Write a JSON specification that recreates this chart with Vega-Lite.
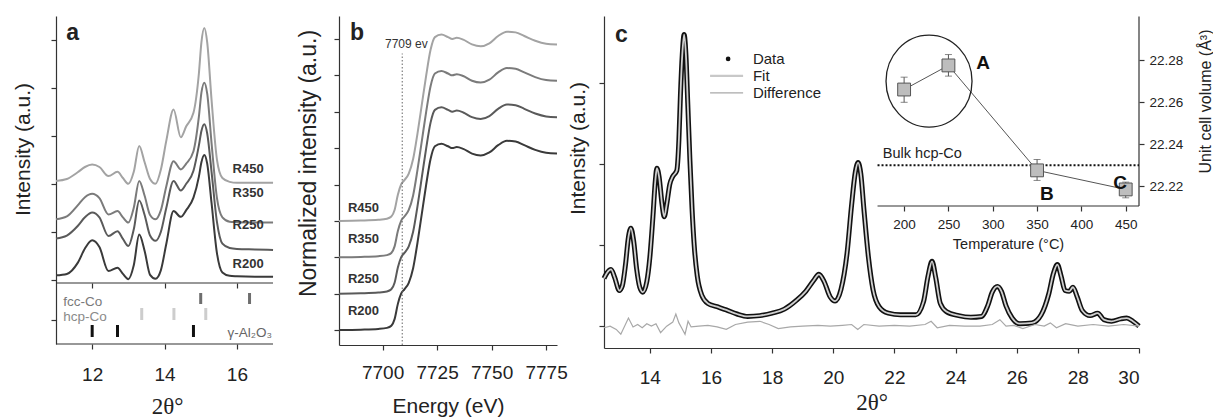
{
"$schema":"https://vega.github.io/schema/vega-lite/v6.json",
"background":"white",
"padding":{"left":12,"top":15,"right":0,"bottom":0},
"bounds":"flush",
"spacing":47,
"config":{"view":{"stroke":null},
 "axis":{"domainColor":"#333333","tickColor":"#333333","labelColor":"#222222","titleColor":"#222222","labelFont":"Liberation Sans","titleFont":"Liberation Sans","titleFontWeight":"normal","grid":false,"labelFontSize":19,"titleFontSize":21,"tickSize":5,"domainWidth":1.2,"tickWidth":1.2},
 "text":{"font":"Liberation Sans"}},
"datasets":{
"xrd":[
{"s":"R200","x":11.0,"y":0.09},{"s":"R200","x":11.3,"y":0.12},{"s":"R200","x":11.6,"y":0.35},{"s":"R200","x":11.8,"y":0.65},{"s":"R200","x":12.0,"y":0.82},{"s":"R200","x":12.2,"y":0.68},{"s":"R200","x":12.45,"y":0.18},{"s":"R200","x":12.7,"y":0.25},{"s":"R200","x":12.85,"y":0.12},{"s":"R200","x":13.0,"y":0.01},{"s":"R200","x":13.15,"y":0.3},{"s":"R200","x":13.3,"y":0.94},{"s":"R200","x":13.45,"y":0.6},{"s":"R200","x":13.6,"y":0.1},{"s":"R200","x":13.75,"y":0.02},{"s":"R200","x":13.9,"y":0.2},{"s":"R200","x":14.05,"y":0.75},{"s":"R200","x":14.25,"y":1.43},{"s":"R200","x":14.45,"y":1.31},{"s":"R200","x":14.6,"y":1.45},{"s":"R200","x":14.8,"y":1.71},{"s":"R200","x":14.95,"y":2.15},{"s":"R200","x":15.02,"y":2.45},{"s":"R200","x":15.1,"y":2.6},{"s":"R200","x":15.18,"y":2.42},{"s":"R200","x":15.3,"y":1.6},{"s":"R200","x":15.45,"y":0.55},{"s":"R200","x":15.6,"y":0.15},{"s":"R200","x":15.8,"y":0.08},{"s":"R200","x":16.0,"y":0.07},{"s":"R200","x":16.5,"y":0.06},{"s":"R200","x":17.0,"y":0.06},
{"s":"R250","x":11.0,"y":0.86},{"s":"R250","x":11.3,"y":0.92},{"s":"R250","x":11.6,"y":1.12},{"s":"R250","x":11.8,"y":1.3},{"s":"R250","x":12.0,"y":1.4},{"s":"R250","x":12.2,"y":1.3},{"s":"R250","x":12.45,"y":0.91},{"s":"R250","x":12.7,"y":1.01},{"s":"R250","x":12.85,"y":0.85},{"s":"R250","x":13.0,"y":0.7},{"s":"R250","x":13.15,"y":1.05},{"s":"R250","x":13.3,"y":1.65},{"s":"R250","x":13.45,"y":1.35},{"s":"R250","x":13.6,"y":0.92},{"s":"R250","x":13.75,"y":0.81},{"s":"R250","x":13.9,"y":1.0},{"s":"R250","x":14.05,"y":1.5},{"s":"R250","x":14.25,"y":2.06},{"s":"R250","x":14.45,"y":1.86},{"s":"R250","x":14.6,"y":2.0},{"s":"R250","x":14.8,"y":2.27},{"s":"R250","x":14.95,"y":2.8},{"s":"R250","x":15.02,"y":3.1},{"s":"R250","x":15.1,"y":3.24},{"s":"R250","x":15.18,"y":3.05},{"s":"R250","x":15.3,"y":2.25},{"s":"R250","x":15.45,"y":1.2},{"s":"R250","x":15.6,"y":0.75},{"s":"R250","x":15.8,"y":0.66},{"s":"R250","x":16.0,"y":0.64},{"s":"R250","x":16.5,"y":0.63},{"s":"R250","x":17.0,"y":0.62},
{"s":"R350","x":11.0,"y":1.26},{"s":"R350","x":11.3,"y":1.32},{"s":"R350","x":11.6,"y":1.55},{"s":"R350","x":11.8,"y":1.72},{"s":"R350","x":12.0,"y":1.79},{"s":"R350","x":12.2,"y":1.7},{"s":"R350","x":12.45,"y":1.36},{"s":"R350","x":12.7,"y":1.43},{"s":"R350","x":12.85,"y":1.3},{"s":"R350","x":13.0,"y":1.19},{"s":"R350","x":13.15,"y":1.5},{"s":"R350","x":13.3,"y":2.06},{"s":"R350","x":13.45,"y":1.75},{"s":"R350","x":13.6,"y":1.35},{"s":"R350","x":13.75,"y":1.26},{"s":"R350","x":13.9,"y":1.45},{"s":"R350","x":14.05,"y":1.95},{"s":"R350","x":14.25,"y":2.47},{"s":"R350","x":14.45,"y":2.3},{"s":"R350","x":14.6,"y":2.42},{"s":"R350","x":14.8,"y":2.68},{"s":"R350","x":14.95,"y":3.4},{"s":"R350","x":15.02,"y":3.9},{"s":"R350","x":15.1,"y":4.11},{"s":"R350","x":15.18,"y":3.88},{"s":"R350","x":15.3,"y":2.85},{"s":"R350","x":15.45,"y":1.7},{"s":"R350","x":15.6,"y":1.3},{"s":"R350","x":15.8,"y":1.21},{"s":"R350","x":16.0,"y":1.2},{"s":"R350","x":16.5,"y":1.19},{"s":"R350","x":17.0,"y":1.19},
{"s":"R450","x":11.0,"y":2.06},{"s":"R450","x":11.3,"y":2.1},{"s":"R450","x":11.6,"y":2.24},{"s":"R450","x":11.8,"y":2.35},{"s":"R450","x":12.0,"y":2.4},{"s":"R450","x":12.2,"y":2.35},{"s":"R450","x":12.45,"y":2.16},{"s":"R450","x":12.7,"y":2.25},{"s":"R450","x":12.85,"y":2.12},{"s":"R450","x":13.0,"y":2.0},{"s":"R450","x":13.15,"y":2.25},{"s":"R450","x":13.3,"y":2.79},{"s":"R450","x":13.45,"y":2.45},{"s":"R450","x":13.6,"y":2.1},{"s":"R450","x":13.75,"y":2.0},{"s":"R450","x":13.9,"y":2.3},{"s":"R450","x":14.05,"y":2.9},{"s":"R450","x":14.25,"y":3.55},{"s":"R450","x":14.45,"y":2.97},{"s":"R450","x":14.6,"y":3.2},{"s":"R450","x":14.8,"y":3.48},{"s":"R450","x":14.95,"y":4.3},{"s":"R450","x":15.02,"y":4.95},{"s":"R450","x":15.1,"y":5.25},{"s":"R450","x":15.18,"y":4.95},{"s":"R450","x":15.3,"y":3.75},{"s":"R450","x":15.45,"y":2.5},{"s":"R450","x":15.6,"y":2.12},{"s":"R450","x":15.8,"y":2.04},{"s":"R450","x":16.0,"y":2.02},{"s":"R450","x":16.5,"y":2.02},{"s":"R450","x":17.0,"y":2.02}
],
"xrdlab":[{"s":"R450","x":15.88,"y":2.30},{"s":"R350","x":15.88,"y":1.81},{"s":"R250","x":15.88,"y":1.14},{"s":"R200","x":15.88,"y":0.32}],
"refl":[{"x":15.0,"y1":4.0,"y2":5.1,"c":"#6e6e6e"},{"x":16.35,"y1":4.0,"y2":5.1,"c":"#6e6e6e"},{"x":13.37,"y1":2.4,"y2":3.6,"c":"#cdcdcd"},{"x":14.26,"y1":2.4,"y2":3.6,"c":"#cdcdcd"},{"x":15.14,"y1":2.4,"y2":3.6,"c":"#cdcdcd"},{"x":12.0,"y1":0.7,"y2":1.9,"c":"#111111"},{"x":12.7,"y1":0.7,"y2":1.9,"c":"#111111"},{"x":14.8,"y1":0.7,"y2":1.9,"c":"#111111"}],
"refltxtL":[{"t":"fcc-Co","x":11.2,"y":4.23,"c":"#7a7a7a"},{"t":"hcp-Co","x":11.2,"y":2.73,"c":"#8a8a8a"}],
"refltxtR":[{"t":"γ-Al₂O₃","x":16.97,"y":1.13,"c":"#666666"}],
"xas":[
{"s":"R200","x":7680,"y":0},{"s":"R200","x":7690,"y":0.01},{"s":"R200","x":7698,"y":0.03},{"s":"R200","x":7702,"y":0.06},{"s":"R200","x":7704,"y":0.12},{"s":"R200","x":7705.5,"y":0.3},{"s":"R200","x":7707,"y":0.72},{"s":"R200","x":7708.5,"y":1.0},{"s":"R200","x":7710,"y":1.12},{"s":"R200","x":7712,"y":1.3},{"s":"R200","x":7714,"y":1.7},{"s":"R200","x":7716,"y":2.4},{"s":"R200","x":7718,"y":3.2},{"s":"R200","x":7720,"y":4.0},{"s":"R200","x":7722,"y":4.7},{"s":"R200","x":7724,"y":5.05},{"s":"R200","x":7727,"y":5.12},{"s":"R200","x":7730,"y":5.05},{"s":"R200","x":7732,"y":5.0},{"s":"R200","x":7734,"y":5.03},{"s":"R200","x":7737,"y":4.98},{"s":"R200","x":7741,"y":4.85},{"s":"R200","x":7745,"y":4.8},{"s":"R200","x":7749,"y":4.88},{"s":"R200","x":7753,"y":5.08},{"s":"R200","x":7757,"y":5.2},{"s":"R200","x":7761,"y":5.18},{"s":"R200","x":7765,"y":5.08},{"s":"R200","x":7770,"y":4.95},{"s":"R200","x":7775,"y":4.87},{"s":"R200","x":7780,"y":4.85},
{"s":"R250","x":7680,"y":1.0},{"s":"R250","x":7690,"y":1.01},{"s":"R250","x":7698,"y":1.03},{"s":"R250","x":7702,"y":1.06},{"s":"R250","x":7704,"y":1.12},{"s":"R250","x":7705.5,"y":1.3},{"s":"R250","x":7707,"y":1.72},{"s":"R250","x":7708.5,"y":2.0},{"s":"R250","x":7710,"y":2.12},{"s":"R250","x":7712,"y":2.3},{"s":"R250","x":7714,"y":2.7},{"s":"R250","x":7716,"y":3.4},{"s":"R250","x":7718,"y":4.2},{"s":"R250","x":7720,"y":5.0},{"s":"R250","x":7722,"y":5.7},{"s":"R250","x":7724,"y":6.05},{"s":"R250","x":7727,"y":6.12},{"s":"R250","x":7730,"y":6.05},{"s":"R250","x":7732,"y":6.0},{"s":"R250","x":7734,"y":6.03},{"s":"R250","x":7737,"y":5.98},{"s":"R250","x":7741,"y":5.85},{"s":"R250","x":7745,"y":5.8},{"s":"R250","x":7749,"y":5.88},{"s":"R250","x":7753,"y":6.08},{"s":"R250","x":7757,"y":6.2},{"s":"R250","x":7761,"y":6.18},{"s":"R250","x":7765,"y":6.08},{"s":"R250","x":7770,"y":5.95},{"s":"R250","x":7775,"y":5.87},{"s":"R250","x":7780,"y":5.85},
{"s":"R350","x":7680,"y":2.0},{"s":"R350","x":7690,"y":2.01},{"s":"R350","x":7698,"y":2.03},{"s":"R350","x":7702,"y":2.06},{"s":"R350","x":7704,"y":2.12},{"s":"R350","x":7705.5,"y":2.3},{"s":"R350","x":7707,"y":2.72},{"s":"R350","x":7708.5,"y":3.0},{"s":"R350","x":7710,"y":3.12},{"s":"R350","x":7712,"y":3.3},{"s":"R350","x":7714,"y":3.7},{"s":"R350","x":7716,"y":4.4},{"s":"R350","x":7718,"y":5.2},{"s":"R350","x":7720,"y":6.0},{"s":"R350","x":7722,"y":6.7},{"s":"R350","x":7724,"y":7.05},{"s":"R350","x":7727,"y":7.12},{"s":"R350","x":7730,"y":7.05},{"s":"R350","x":7732,"y":7.0},{"s":"R350","x":7734,"y":7.03},{"s":"R350","x":7737,"y":6.98},{"s":"R350","x":7741,"y":6.85},{"s":"R350","x":7745,"y":6.8},{"s":"R350","x":7749,"y":6.88},{"s":"R350","x":7753,"y":7.08},{"s":"R350","x":7757,"y":7.2},{"s":"R350","x":7761,"y":7.18},{"s":"R350","x":7765,"y":7.08},{"s":"R350","x":7770,"y":6.95},{"s":"R350","x":7775,"y":6.87},{"s":"R350","x":7780,"y":6.85},
{"s":"R450","x":7680,"y":3.0},{"s":"R450","x":7690,"y":3.01},{"s":"R450","x":7698,"y":3.03},{"s":"R450","x":7702,"y":3.06},{"s":"R450","x":7704,"y":3.12},{"s":"R450","x":7705.5,"y":3.3},{"s":"R450","x":7707,"y":3.72},{"s":"R450","x":7708.5,"y":4.0},{"s":"R450","x":7710,"y":4.12},{"s":"R450","x":7712,"y":4.3},{"s":"R450","x":7714,"y":4.7},{"s":"R450","x":7716,"y":5.4},{"s":"R450","x":7718,"y":6.2},{"s":"R450","x":7720,"y":7.0},{"s":"R450","x":7722,"y":7.7},{"s":"R450","x":7724,"y":8.05},{"s":"R450","x":7727,"y":8.12},{"s":"R450","x":7730,"y":8.05},{"s":"R450","x":7732,"y":8.0},{"s":"R450","x":7734,"y":8.03},{"s":"R450","x":7737,"y":7.98},{"s":"R450","x":7741,"y":7.85},{"s":"R450","x":7745,"y":7.8},{"s":"R450","x":7749,"y":7.88},{"s":"R450","x":7753,"y":8.08},{"s":"R450","x":7757,"y":8.2},{"s":"R450","x":7761,"y":8.18},{"s":"R450","x":7765,"y":8.08},{"s":"R450","x":7770,"y":7.95},{"s":"R450","x":7775,"y":7.87},{"s":"R450","x":7780,"y":7.85}
],
"xaslab":[{"s":"R450","x":7684.1,"y":3.35},{"s":"R350","x":7684.1,"y":2.5},{"s":"R250","x":7684.1,"y":1.4},{"s":"R200","x":7684.1,"y":0.52}],
"cfit":[
{"x":12.5,"y":0.59},{"x":12.6,"y":0.66},{"x":12.73,"y":0.70},{"x":12.85,"y":0.6},{"x":13.0,"y":0.44},{"x":13.1,"y":0.5},{"x":13.2,"y":0.75},{"x":13.3,"y":1.1},{"x":13.38,"y":1.21},{"x":13.47,"y":1.05},{"x":13.57,"y":0.7},{"x":13.67,"y":0.48},{"x":13.77,"y":0.42},{"x":13.9,"y":0.55},{"x":14.0,"y":0.85},{"x":14.1,"y":1.35},{"x":14.18,"y":1.8},{"x":14.23,"y":1.95},{"x":14.3,"y":1.85},{"x":14.4,"y":1.5},{"x":14.47,"y":1.35},{"x":14.55,"y":1.5},{"x":14.65,"y":1.75},{"x":14.75,"y":1.85},{"x":14.88,"y":1.92},{"x":14.95,"y":2.3},{"x":15.0,"y":2.85},{"x":15.06,"y":3.35},{"x":15.12,"y":3.6},{"x":15.18,"y":3.35},{"x":15.24,"y":2.75},{"x":15.31,"y":2.05},{"x":15.38,"y":1.45},{"x":15.45,"y":1.0},{"x":15.55,"y":0.62},{"x":15.7,"y":0.38},{"x":15.9,"y":0.28},{"x":16.2,"y":0.24},{"x":16.5,"y":0.2},{"x":16.85,"y":0.15},{"x":17.2,"y":0.12},{"x":17.6,"y":0.13},{"x":18.0,"y":0.16},{"x":18.4,"y":0.21},{"x":18.8,"y":0.32},{"x":19.1,"y":0.43},{"x":19.35,"y":0.56},{"x":19.53,"y":0.64},{"x":19.7,"y":0.55},{"x":19.9,"y":0.36},{"x":20.06,"y":0.31},{"x":20.25,"y":0.45},{"x":20.45,"y":0.9},{"x":20.6,"y":1.5},{"x":20.72,"y":1.9},{"x":20.81,"y":2.02},{"x":20.9,"y":1.88},{"x":21.0,"y":1.45},{"x":21.15,"y":0.85},{"x":21.3,"y":0.45},{"x":21.5,"y":0.24},{"x":21.8,"y":0.16},{"x":22.2,"y":0.14},{"x":22.7,"y":0.14},{"x":22.95,"y":0.3},{"x":23.1,"y":0.62},{"x":23.23,"y":0.80},{"x":23.35,"y":0.6},{"x":23.5,"y":0.28},{"x":23.7,"y":0.18},{"x":24.1,"y":0.13},{"x":24.5,"y":0.11},{"x":24.85,"y":0.12},{"x":25.05,"y":0.25},{"x":25.2,"y":0.42},{"x":25.37,"y":0.49},{"x":25.5,"y":0.43},{"x":25.65,"y":0.25},{"x":25.85,"y":0.1},{"x":26.1,"y":0.03},{"x":26.5,"y":0.04},{"x":26.8,"y":0.14},{"x":27.05,"y":0.4},{"x":27.2,"y":0.65},{"x":27.33,"y":0.76},{"x":27.45,"y":0.62},{"x":27.58,"y":0.44},{"x":27.72,"y":0.43},{"x":27.84,"y":0.48},{"x":27.98,"y":0.36},{"x":28.15,"y":0.19},{"x":28.4,"y":0.13},{"x":28.65,"y":0.16},{"x":28.85,"y":0.08},{"x":29.1,"y":0.06},{"x":29.4,"y":0.09},{"x":29.6,"y":0.1},{"x":29.8,"y":0.06},{"x":30.0,"y":0.0}
],
"cdiff":[
{"x":12.5,"y":-0.02},{"x":12.7,"y":0.0},{"x":12.9,"y":-0.04},{"x":13.05,"y":-0.1},{"x":13.3,"y":0.1},{"x":13.45,"y":-0.01},{"x":13.6,"y":0.02},{"x":13.75,"y":-0.02},{"x":13.9,"y":0.03},{"x":14.05,"y":0.0},{"x":14.2,"y":0.03},{"x":14.35,"y":-0.08},{"x":14.55,"y":0.0},{"x":14.75,"y":0.05},{"x":14.85,"y":0.15},{"x":14.95,"y":0.04},{"x":15.05,"y":-0.03},{"x":15.15,"y":-0.1},{"x":15.25,"y":0.06},{"x":15.35,"y":-0.01},{"x":15.6,"y":0.0},{"x":15.9,"y":0.01},{"x":16.2,"y":-0.01},{"x":16.5,"y":-0.04},{"x":16.8,"y":0.02},{"x":17.2,"y":0.05},{"x":17.6,"y":0.06},{"x":17.9,"y":0.02},{"x":18.2,"y":-0.03},{"x":18.6,"y":-0.01},{"x":19.0,"y":0.0},{"x":19.5,"y":0.01},{"x":19.9,"y":0.0},{"x":20.3,"y":0.01},{"x":20.6,"y":0.02},{"x":20.8,"y":-0.04},{"x":21.0,"y":0.02},{"x":21.5,"y":0.0},{"x":22.0,"y":0.01},{"x":22.5,"y":0.0},{"x":23.0,"y":0.02},{"x":23.2,"y":0.06},{"x":23.4,"y":-0.02},{"x":23.8,"y":0.01},{"x":24.3,"y":0.0},{"x":24.8,"y":0.0},{"x":25.2,"y":0.02},{"x":25.45,"y":0.08},{"x":25.65,"y":0.0},{"x":25.9,"y":0.01},{"x":26.2,"y":-0.03},{"x":26.6,"y":0.02},{"x":26.9,"y":0.0},{"x":27.1,"y":0.04},{"x":27.3,"y":-0.02},{"x":27.6,"y":0.03},{"x":28.0,"y":0.0},{"x":28.5,"y":0.02},{"x":29.0,"y":0.0},{"x":29.5,"y":0.02},{"x":30.0,"y":0.0}
],
"clegline":[{"x":15.97,"x2":17.05,"y":3.09,"c":"#c8c8c8","w":2.2},{"x":15.97,"x2":17.05,"y":2.88,"c":"#a8a8a8","w":1.2}],
"clegtxt":[{"t":"Data","x":17.37,"y":3.30},{"t":"Fit","x":17.37,"y":3.09},{"t":"Difference","x":17.37,"y":2.88}],
"inset":[{"t":200,"v":22.2661,"lo":22.260,"hi":22.272},{"t":250,"v":22.2776,"lo":22.2725,"hi":22.2828},{"t":350,"v":22.2275,"lo":22.2227,"hi":22.2327},{"t":450,"v":22.2184,"lo":22.2144,"hi":22.2219}],
"insetframe":[{"x":170,"x2":465,"y":22.2105,"y2":22.2105},{"x":465,"x2":465,"y":22.2105,"y2":22.301}],
"insetlab":[{"t":"A","x":289,"y":22.2787},{"t":"B","x":361,"y":22.2162},{"t":"C","x":443.6,"y":22.2214}]
},
"hconcat":[
 {"width":236,"height":328,
  "layer":[
   {"layer":[
    {"data":{"name":"xrd"},"mark":{"type":"line","interpolate":"monotone","strokeWidth":2},
     "encoding":{
      "x":{"field":"x","type":"quantitative","scale":{"domain":[11,17.524],"nice":false,"zero":false},"axis":{"orient":"bottom","offset":-61,"values":[12,14,16],"labels":false,"domain":false,"title":null}},
      "y":{"field":"y","type":"quantitative","scale":{"domain":[-1.342,5.5],"nice":false,"zero":false},"axis":{"orient":"left","values":[0,1,2,3,4,5],"labels":false,"title":"Intensity (a.u.)","titlePadding":17,"titleY":133}},
      "color":{"field":"s","type":"nominal","scale":{"domain":["R200","R250","R350","R450"],"range":["#3a3a3a","#5a5a5a","#7b7b7b","#a3a3a3"]},"legend":null}}},
    {"data":{"values":[{"x":11,"x2":17,"y":-0.07}]},"mark":{"type":"rule","color":"#333333","strokeWidth":1.2},
     "encoding":{"x":{"field":"x","type":"quantitative"},"x2":{"field":"x2"},"y":{"field":"y","type":"quantitative"}}},
    {"data":{"name":"xrdlab"},"mark":{"type":"text","align":"left","baseline":"middle","fontWeight":"bold","fontSize":13,"color":"#333333"},
     "encoding":{"x":{"field":"x","type":"quantitative"},"y":{"field":"y","type":"quantitative"},"text":{"field":"s"}}},
    {"data":{"values":[{"t":"a","x":11.28,"y":5.14}]},"mark":{"type":"text","align":"left","baseline":"middle","fontWeight":"bold","fontSize":23,"color":"#222222"},
     "encoding":{"x":{"field":"x","type":"quantitative"},"y":{"field":"y","type":"quantitative"},"text":{"field":"t"}}}
   ]},
   {"layer":[
    {"data":{"name":"refl"},"mark":{"type":"rule","strokeWidth":3},
     "encoding":{
      "x":{"field":"x","type":"quantitative","scale":{"domain":[11,17.524],"nice":false,"zero":false},"axis":{"orient":"bottom","values":[12,14,16],"domain":false,"title":"2θ°","titleFont":"Liberation Serif","titleFontSize":23,"labelPadding":16,"titlePadding":11,"titleX":111}},
      "y":{"field":"y1","type":"quantitative","scale":{"domain":[0,32.8],"nice":false,"zero":false},"axis":{"orient":"left","values":[2.4],"labels":false,"domain":false,"title":null}},
      "y2":{"field":"y2"},
      "color":{"field":"c","type":"nominal","scale":null}}},
    {"data":{"values":[{"x":11,"x2":17,"y":0}]},"mark":{"type":"rule","color":"#333333","strokeWidth":1.2},
     "encoding":{"x":{"field":"x","type":"quantitative"},"x2":{"field":"x2"},"y":{"field":"y","type":"quantitative"}}},
    {"data":{"name":"refltxtL"},"mark":{"type":"text","align":"left","baseline":"middle","fontSize":13.5},
     "encoding":{"x":{"field":"x","type":"quantitative"},"y":{"field":"y","type":"quantitative"},"text":{"field":"t"},"color":{"field":"c","type":"nominal","scale":null}}},
    {"data":{"name":"refltxtR"},"mark":{"type":"text","align":"right","baseline":"middle","fontSize":13.5},
     "encoding":{"x":{"field":"x","type":"quantitative"},"y":{"field":"y","type":"quantitative"},"text":{"field":"t"},"color":{"field":"c","type":"nominal","scale":null}}}
   ]}
  ],
  "resolve":{"scale":{"x":"independent","y":"independent"},"axis":{"x":"independent","y":"independent"}}},
 {"width":218,"height":329,"layer":[
  {"data":{"name":"xas"},"mark":{"type":"line","interpolate":"monotone","strokeWidth":2},
   "encoding":{
    "x":{"field":"x","type":"quantitative","scale":{"domain":[7680,7780],"nice":false,"zero":false},"axis":{"values":[7700,7725,7750,7775],"format":"d","title":"Energy (eV)","labelPadding":13,"titlePadding":13}},
    "y":{"field":"y","type":"quantitative","scale":{"domain":[-0.41,8.63],"nice":false,"zero":false},"axis":{"values":[0,1,2,3,4,5,6,7,8],"labels":false,"title":"Normalized intensity (a.u.)","titleFontSize":23,"titlePadding":13,"titleY":147}},
    "color":{"field":"s","type":"nominal","scale":{"domain":["R200","R250","R350","R450"],"range":["#444444","#666666","#808080","#a8a8a8"]},"legend":null}}},
  {"data":{"values":[{"x":7709,"y1":-0.41,"y2":7.6}]},"mark":{"type":"rule","strokeDash":[1.5,2],"color":"#666666","strokeWidth":1},
   "encoding":{"x":{"field":"x","type":"quantitative"},"y":{"field":"y1","type":"quantitative"},"y2":{"field":"y2"}}},
  {"data":{"values":[{"t":"7709 ev","x":7701.1,"y":7.86}]},"mark":{"type":"text","align":"left","baseline":"middle","fontSize":12,"color":"#333333"},
   "encoding":{"x":{"field":"x","type":"quantitative"},"y":{"field":"y","type":"quantitative"},"text":{"field":"t"}}},
  {"data":{"name":"xaslab"},"mark":{"type":"text","align":"left","baseline":"middle","fontWeight":"bold","fontSize":13,"color":"#333333"},
   "encoding":{"x":{"field":"x","type":"quantitative"},"y":{"field":"y","type":"quantitative"},"text":{"field":"s"}}},
  {"data":{"values":[{"t":"b","x":7685,"y":8.16}]},"mark":{"type":"text","align":"left","baseline":"middle","fontWeight":"bold","fontSize":23,"color":"#222222"},
   "encoding":{"x":{"field":"x","type":"quantitative"},"y":{"field":"y","type":"quantitative"},"text":{"field":"t"}}}
 ]},
 {"width":535,"height":332,
  "layer":[
   {"layer":[
    {"data":{"name":"cfit"},"mark":{"type":"line","interpolate":"monotone","strokeWidth":5,"color":"#111111"},
     "encoding":{
      "x":{"field":"x","type":"quantitative","scale":{"domain":[12.5,30],"nice":false,"zero":false},"axis":{"orient":"bottom","values":[14,16,18,20,22,24,26,28,30],"title":"2θ°","titleFont":"Liberation Serif","titleFontSize":23,"labelPadding":15,"titlePadding":4}},
      "y":{"field":"y","type":"quantitative","scale":{"domain":[-0.27,3.83],"nice":false,"zero":false},"axis":{"orient":"left","values":[0,1,2,3],"labels":false,"title":"Intensity (a.u.)","titlePadding":10,"titleY":132}}}},
    {"data":{"name":"cfit"},"mark":{"type":"line","interpolate":"monotone","strokeWidth":1.8,"color":"#cfcfcf"},
     "encoding":{"x":{"field":"x","type":"quantitative"},"y":{"field":"y","type":"quantitative"}}},
    {"data":{"name":"cdiff"},"mark":{"type":"line","strokeWidth":1.2,"color":"#a8a8a8"},
     "encoding":{"x":{"field":"x","type":"quantitative"},"y":{"field":"y","type":"quantitative"}}},
    {"data":{"values":[{"x":16.56,"y":3.30}]},"mark":{"type":"point","filled":true,"color":"#111111","size":22,"opacity":1},
     "encoding":{"x":{"field":"x","type":"quantitative"},"y":{"field":"y","type":"quantitative"}}},
    {"data":{"name":"clegline"},"mark":{"type":"rule"},
     "encoding":{"x":{"field":"x","type":"quantitative"},"x2":{"field":"x2"},"y":{"field":"y","type":"quantitative"},"color":{"field":"c","type":"nominal","scale":null},"strokeWidth":{"field":"w","type":"quantitative","scale":null}}},
    {"data":{"name":"clegtxt"},"mark":{"type":"text","align":"left","baseline":"middle","fontSize":15,"color":"#222222"},
     "encoding":{"x":{"field":"x","type":"quantitative"},"y":{"field":"y","type":"quantitative"},"text":{"field":"t"}}},
    {"data":{"values":[{"t":"c","x":12.86,"y":3.6}]},"mark":{"type":"text","align":"left","baseline":"middle","fontWeight":"bold","fontSize":23,"color":"#222222"},
     "encoding":{"x":{"field":"x","type":"quantitative"},"y":{"field":"y","type":"quantitative"},"text":{"field":"t"}}}
   ]},
   {"layer":[
    {"data":{"name":"insetframe"},"mark":{"type":"rule","color":"#333333","strokeWidth":1.2},
     "encoding":{"x":{"field":"x","type":"quantitative","scale":{"domain":[-138.6,465],"nice":false,"zero":false}},"x2":{"field":"x2"},"y":{"field":"y","type":"quantitative","scale":{"domain":[22.1427,22.3012],"nice":false,"zero":false}},"y2":{"field":"y2"}}},
    {"data":{"values":[{"x":170,"x2":465,"y":22.23}]},"mark":{"type":"rule","color":"#111111","strokeWidth":2,"strokeDash":[2,2]},
     "encoding":{"x":{"field":"x","type":"quantitative"},"x2":{"field":"x2"},"y":{"field":"y","type":"quantitative"}}},
    {"data":{"name":"inset"},"mark":{"type":"line","color":"#555555","strokeWidth":1},
     "encoding":{
      "x":{"field":"t","type":"quantitative","axis":{"orient":"bottom","offset":-142,"values":[200,250,300,350,400,450],"domain":false,"labelFontSize":13.5,"labelPadding":6,"tickSize":5,"title":"Temperature (°C)","titleFontSize":14.5,"titleX":404,"titlePadding":7}},
      "y":{"field":"v","type":"quantitative","axis":{"orient":"right","values":[22.22,22.24,22.26,22.28],"format":".2f","domain":false,"labelFontSize":13.5,"labelPadding":5,"tickSize":5,"title":"Unit cell volume (Å³)","titleFontSize":16,"titleAngle":270,"titleBaseline":"middle","titleAlign":"center","titleX":66,"titleY":85}}}},
    {"data":{"name":"inset"},"mark":{"type":"rule","color":"#555555","strokeWidth":1},
     "encoding":{"x":{"field":"t","type":"quantitative"},"y":{"field":"lo","type":"quantitative"},"y2":{"field":"hi"}}},
    {"data":{"name":"inset"},"mark":{"type":"tick","orient":"horizontal","size":7,"thickness":1,"color":"#555555"},
     "encoding":{"x":{"field":"t","type":"quantitative"},"y":{"field":"lo","type":"quantitative"}}},
    {"data":{"name":"inset"},"mark":{"type":"tick","orient":"horizontal","size":7,"thickness":1,"color":"#555555"},
     "encoding":{"x":{"field":"t","type":"quantitative"},"y":{"field":"hi","type":"quantitative"}}},
    {"data":{"name":"inset"},"mark":{"type":"point","shape":"square","size":165,"filled":true,"fill":"#bdbdbd","stroke":"#555555","strokeWidth":1,"opacity":1},
     "encoding":{"x":{"field":"t","type":"quantitative"},"y":{"field":"v","type":"quantitative"}}},
    {"data":{"values":[{"x":228.1,"y":22.2701}]},"mark":{"type":"point","shape":"M-1,0A1,1.07,0,1,1,1,0A1,1.07,0,1,1,-1,0Z","size":7396,"filled":false,"stroke":"#222222","strokeWidth":1.3,"opacity":1},
     "encoding":{"x":{"field":"x","type":"quantitative"},"y":{"field":"y","type":"quantitative"}}},
    {"data":{"name":"insetlab"},"mark":{"type":"text","align":"center","baseline":"middle","fontWeight":"bold","fontSize":19,"color":"#111111"},
     "encoding":{"x":{"field":"x","type":"quantitative"},"y":{"field":"y","type":"quantitative"},"text":{"field":"t"}}},
    {"data":{"values":[{"t":"Bulk hcp-Co","x":176,"y":22.2353}]},"mark":{"type":"text","align":"left","baseline":"middle","fontSize":14.5,"color":"#222222"},
     "encoding":{"x":{"field":"x","type":"quantitative"},"y":{"field":"y","type":"quantitative"},"text":{"field":"t"}}}
   ]}
  ],
  "resolve":{"scale":{"x":"independent","y":"independent"},"axis":{"x":"independent","y":"independent"}}}
]
}
